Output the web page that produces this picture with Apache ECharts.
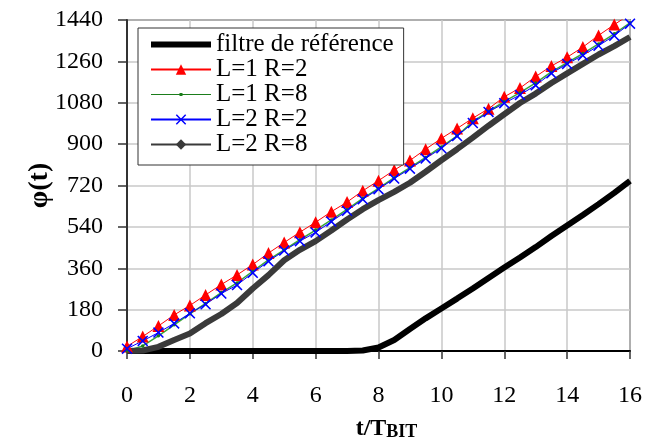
<!DOCTYPE html>
<html>
<head>
<meta charset="utf-8">
<script src="https://cdn.jsdelivr.net/npm/echarts@6/dist/echarts.min.js"></script>
<style>
  html, body { margin: 0; padding: 0; background: #fff; }
  #main { width: 648px; height: 446px; }
</style>
</head>
<body>
<div id="main"></div>
<script>
// t / T_BIT sample points
var tBit = [0, 0.5, 1, 1.5, 2, 2.5, 3, 3.5, 4, 4.5, 5, 5.5, 6, 6.5, 7, 7.5, 8,
            8.5, 9, 9.5, 10, 10.5, 11, 11.5, 12, 12.5, 13, 13.5, 14, 14.5, 15, 15.5, 16];

var filtreRef = [0, 0, 0, 0, 0, 0, 0, 0, 0, 0, 0, 0, 0, 0, 0, 2, 15,
                 48, 96, 142, 185, 228, 272, 318, 363, 407, 452, 500, 546, 592, 639, 688, 740];

var l1r2 = [20, 63, 109, 157, 198, 244, 289, 331, 376, 426, 472, 517, 560, 606, 648, 697, 741,
            787, 829, 878, 925, 968, 1013, 1054, 1106, 1144, 1194, 1240, 1278, 1322, 1373, 1420, 1465];

var l1r8 = [0, 22, 66, 114, 162, 207, 254, 296, 347, 396, 440, 484, 526, 570, 616, 664, 708,
            754, 798, 842, 888, 936, 998, 1043, 1085, 1124, 1166, 1214, 1254, 1294, 1336, 1380, 1428];

var l2r2 = [10, 44, 80, 120, 164, 203, 250, 287, 340, 390, 437, 478, 516, 563, 610, 660, 704,
            750, 793, 838, 882, 935, 992, 1040, 1078, 1114, 1156, 1208, 1249, 1286, 1328, 1372, 1424];

var l2r8 = [0, 2, 18, 48, 76, 121, 161, 209, 272, 330, 395, 440, 478, 524, 572, 617, 656,
            692, 732, 780, 830, 878, 928, 980, 1030, 1079, 1120, 1166, 1208, 1249, 1290, 1326, 1366];

var seriesNames = ['filtre de référence', 'L=1 R=2', 'L=1 R=8', 'L=2 R=2', 'L=2 R=8'];

function pairs(vals) {
    var out = [];
    for (var i = 0; i < tBit.length; i++) {
        out.push([tBit[i], vals[i]]);
    }
    return out;
}

var serif = '"Liberation Serif", "Times New Roman", serif';
var crossPath = 'path://M0,1L1,0L5,4L9,0L10,1L6,5L10,9L9,10L5,6L1,10L0,9L4,5Z';

var myChart = echarts.init(document.getElementById('main'), null, {renderer: 'canvas'});

myChart.setOption({
    backgroundColor: '#fff',
    animation: false,
    grid: {
        left: 127,
        right: 18,
        top: 20,
        bottom: 93,
        show: true,
        borderColor: '#333',
        borderWidth: 1.5,
        containLabel: false
    },
    legend: {
        orient: 'vertical',
        left: 138,
        top: 28,
        padding: [4, 10, 8, 12],
        itemWidth: 60,
        itemHeight: 13,
        itemGap: 0,
        borderColor: '#333',
        borderWidth: 1,
        backgroundColor: '#fff',
        textStyle: {
            fontFamily: serif,
            fontSize: 25,
            lineHeight: 25,
            color: '#000'
        },
        data: [
            {name: seriesNames[0], icon: 'path://M0,0h10v1h-10z'},
            {name: seriesNames[1]},
            {name: seriesNames[2], icon: 'path://M0,1h40v0.8h-40z M19,0.4h2v2h-2z'},
            {name: seriesNames[3]},
            {name: seriesNames[4]}
        ]
    },
    xAxis: {
        type: 'value',
        min: 0,
        max: 16,
        interval: 2,
        name: '{a|t/T}{b|BIT}',
        nameLocation: 'middle',
        nameGap: 66,
        nameMoveOverlap: false,
        nameTextStyle: {
            padding: [0, 0, 0, 16],
            rich: {
                a: {fontFamily: serif, fontSize: 24, fontWeight: 'bold', color: '#000', verticalAlign: 'bottom'},
                b: {fontFamily: serif, fontSize: 18, fontWeight: 'bold', color: '#000', verticalAlign: 'bottom'}
            }
        },
        axisLine: {show: true, onZero: false, lineStyle: {color: '#000', width: 2}},
        axisTick: {show: true, inside: false, length: 8, lineStyle: {color: '#333', width: 1.5}},
        axisLabel: {
            margin: 33,
            fontFamily: serif,
            fontSize: 24,
            color: '#000',
            showMinLabel: true,
            showMaxLabel: true
        },
        splitLine: {show: true, lineStyle: {color: '#c8c8c8', width: 1.5}}
    },
    yAxis: {
        type: 'value',
        min: 0,
        max: 1440,
        interval: 180,
        name: 'φ(t)',
        nameLocation: 'middle',
        nameGap: 73,
        nameMoveOverlap: false,
        nameTextStyle: {fontFamily: serif, fontSize: 28, fontWeight: 'bold', color: '#000'},
        axisLine: {show: true, onZero: false, lineStyle: {color: '#333', width: 2}},
        axisTick: {show: true, inside: false, length: 9, lineStyle: {color: '#333', width: 1.5}},
        axisLabel: {
            margin: 24,
            fontFamily: serif,
            fontSize: 24,
            color: '#000',
            showMinLabel: true,
            showMaxLabel: true,
            formatter: function (v) { return String(v); }
        },
        splitLine: {show: true, lineStyle: {color: '#c8c8c8', width: 1.5}}
    },
    series: [
        {
            name: seriesNames[0],
            type: 'line',
            data: pairs(filtreRef),
            symbol: 'none',
            clip: true,
            lineStyle: {color: '#000', width: 6},
            itemStyle: {color: '#000'}
        },
        {
            name: seriesNames[1],
            type: 'line',
            data: pairs(l1r2),
            symbol: 'triangle',
            symbolSize: 12,
            clip: true,
            lineStyle: {color: '#ff0000', width: 1},
            itemStyle: {color: '#ff0000'}
        },
        {
            name: seriesNames[2],
            type: 'line',
            data: pairs(l1r8),
            symbol: 'circle',
            symbolSize: 3.5,
            clip: true,
            lineStyle: {color: '#3aa53a', width: 1.5},
            itemStyle: {color: '#1b7d1b'}
        },
        {
            name: seriesNames[3],
            type: 'line',
            data: pairs(l2r2),
            symbol: crossPath,
            symbolSize: 11,
            clip: true,
            lineStyle: {color: '#0000ff', width: 1},
            itemStyle: {color: '#0000ff'}
        },
        {
            name: seriesNames[4],
            type: 'line',
            data: pairs(l2r8),
            symbol: 'diamond',
            symbolSize: 9,
            showSymbol: false,
            clip: true,
            lineStyle: {color: '#3a3a3a', width: 6},
            itemStyle: {color: '#3a3a3a'}
        }
    ]
});
</script>
</body>
</html>
